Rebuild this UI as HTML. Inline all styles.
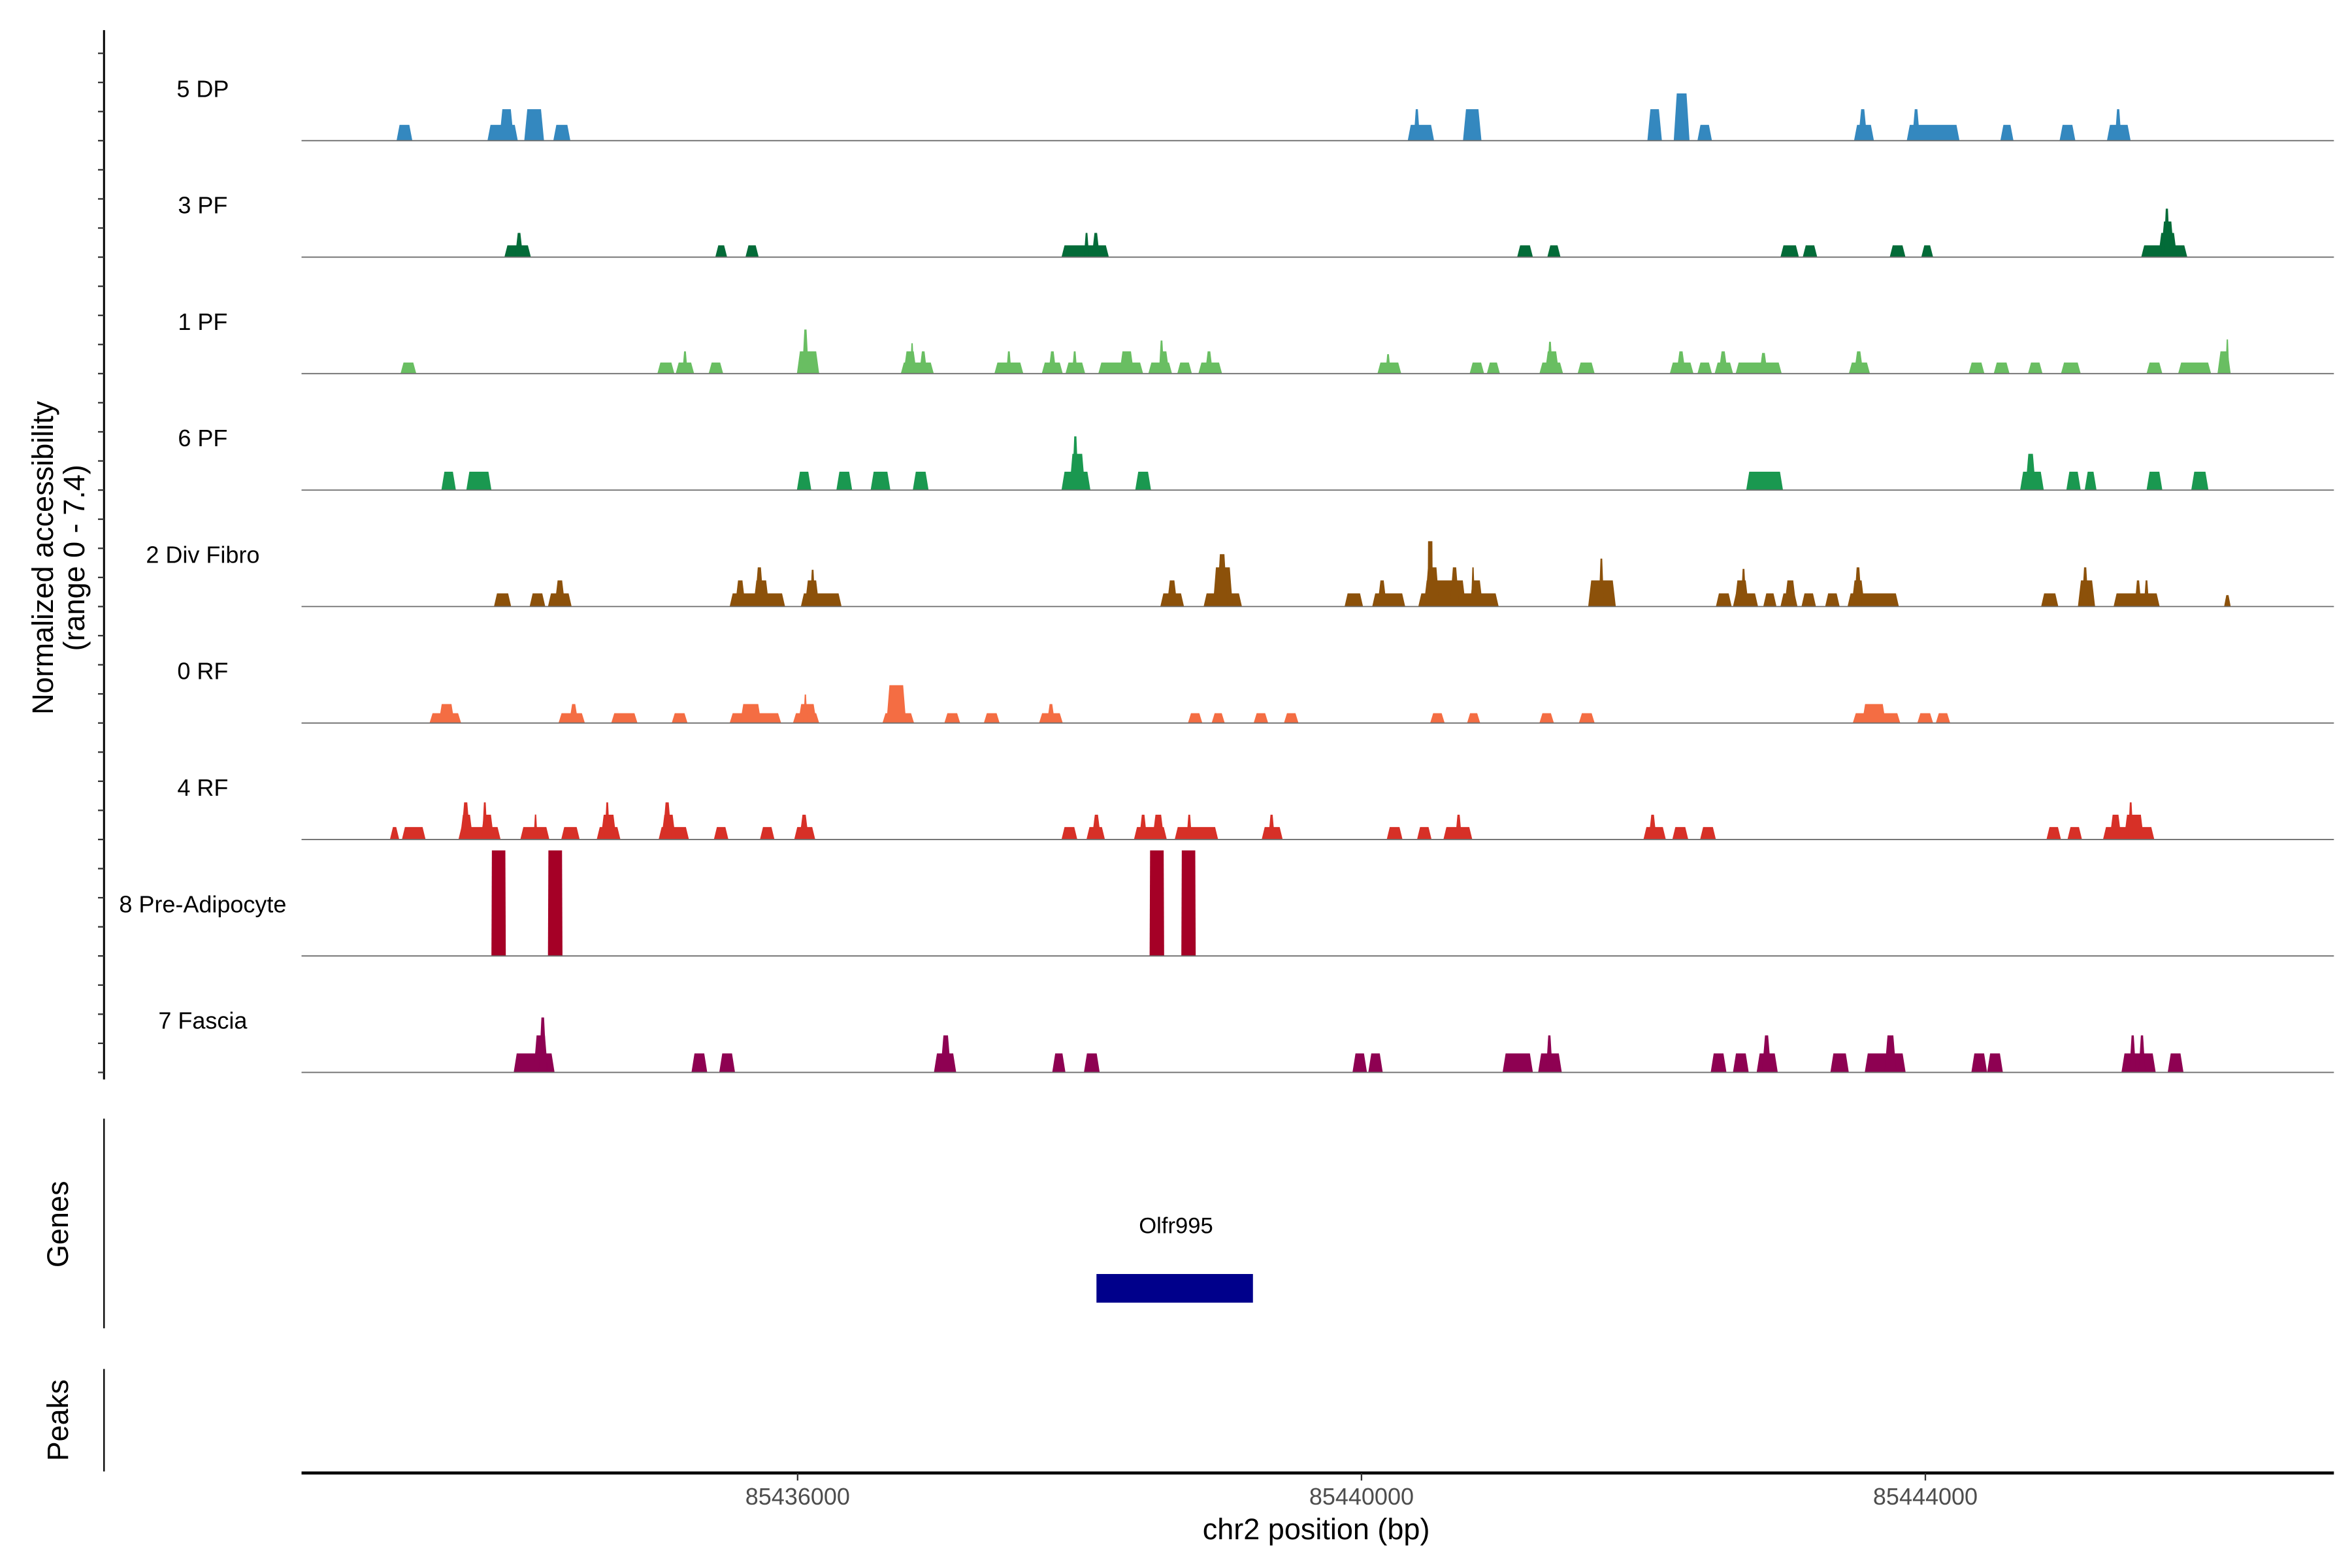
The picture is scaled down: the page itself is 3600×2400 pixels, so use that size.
<!DOCTYPE html>
<html><head><meta charset="utf-8"><style>
html,body{margin:0;padding:0;background:#fff;}
svg{display:block;}
text{font-family:"Liberation Sans",Arial,sans-serif;}
</style></head><body>
<svg id="chart" xmlns="http://www.w3.org/2000/svg" width="3600" height="2400" viewBox="0 0 1560 1040">
<rect x="0" y="0" width="1560" height="1040" fill="#fff"/>
<g id="tracks"></g>
<g id="yaxis">
<line x1="69" y1="20" x2="69" y2="716" stroke="#000" stroke-width="1.3"/>
</g>
<text transform="translate(35,370) rotate(-90)" text-anchor="middle" font-size="19.5">Normalized accessibility</text>
<text transform="translate(56,370) rotate(-90)" text-anchor="middle" font-size="19.5">(range 0 - 7.4)</text>
<line x1="69" y1="742" x2="69" y2="881" stroke="#000" stroke-width="1"/>
<text transform="translate(45,812) rotate(-90)" text-anchor="middle" font-size="19.5">Genes</text>
<text x="780" y="818" text-anchor="middle" font-size="15">Olfr995</text>
<rect id="generect" y="845" height="19" fill="#00008B"/>
<line x1="69" y1="908" x2="69" y2="976" stroke="#000" stroke-width="1"/>
<text transform="translate(45,942) rotate(-90)" text-anchor="middle" font-size="19.5">Peaks</text>
<line x1="200" y1="977" x2="1548" y2="977" stroke="#000" stroke-width="2"/>
<g id="xaxis"></g>
<text x="873" y="1021" text-anchor="middle" font-size="19.5">chr2 position (bp)</text>
</svg>
<script>
const xDomain = [85432481, 85446898];
const xTicks = [85436000, 85440000, 85444000];
const yMax = 7.4;
const trackNames = ["5 DP","3 PF","1 PF","6 PF","2 Div Fibro","0 RF","4 RF","8 Pre-Adipocyte","7 Fascia"];
const trackColors = ["#3488BF","#036B38","#69BE62","#1A9850","#8C510A","#F46D43","#D73027","#A50026","#8E0152"];
const gene = ["Olfr995", 85438120, 85439230];

const peaks5DP = [[85433155,85433267,1.11],[85433800,85434015,1.11],[85433884,85433987,2.21],[85434061,85434201,2.21],[85434267,85434388,1.11],[85440328,85440515,1.11],[85440370,85440415,2.21],[85440720,85440851,2.21],[85442028,85442131,2.21],[85442215,85442327,3.31],[85442383,85442486,1.11],[85443494,85443635,1.11],[85443523,85443588,2.21],[85443868,85444242,1.11],[85443906,85443962,2.21],[85444532,85444625,1.11],[85444952,85445064,1.11],[85445288,85445456,1.11],[85445344,85445391,2.21]];
const peaks3PF = [[85433920,85434108,0.83],[85433996,85434052,1.7],[85435416,85435500,0.83],[85435630,85435724,0.83],[85437872,85438208,0.83],[85438031,85438068,1.7],[85438087,85438143,1.7],[85441104,85441216,0.83],[85441318,85441412,0.83],[85442972,85443103,0.83],[85443130,85443233,0.83],[85443747,85443859,0.83],[85443971,85444055,0.83],[85445531,85445858,0.83],[85445652,85445785,1.7],[85445671,85445766,2.5],[85445690,85445736,3.4]];
const peaks1PF = [[85433183,85433295,0.78],[85435005,85435126,0.78],[85435135,85435266,0.78],[85435182,85435220,1.56],[85435369,85435472,0.78],[85435995,85436153,1.56],[85436032,85436079,3.09],[85436732,85436966,0.78],[85436751,85436845,1.56],[85436798,85436826,2.13],[85436863,85436919,1.56],[85437396,85437601,0.78],[85437480,85437517,1.56],[85437732,85437881,0.78],[85437779,85437835,1.56],[85437900,85438040,0.78],[85437947,85437984,1.56],[85438133,85438451,0.78],[85438283,85438386,1.56],[85438488,85438656,0.78],[85438563,85438637,1.56],[85438563,85438600,2.32],[85438693,85438797,0.78],[85438843,85439011,0.78],[85438890,85438946,1.56],[85440113,85440282,0.78],[85440170,85440207,1.36],[85440767,85440870,0.78],[85440889,85440982,0.78],[85441262,85441430,0.78],[85441300,85441402,1.56],[85441318,85441356,2.23],[85441533,85441654,0.78],[85442187,85442355,0.78],[85442234,85442299,1.56],[85442383,85442486,0.78],[85442505,85442636,0.78],[85442533,85442598,1.56],[85442654,85442981,0.78],[85442823,85442880,1.45],[85443457,85443607,0.78],[85443494,85443560,1.56],[85444307,85444419,0.78],[85444485,85444597,0.78],[85444728,85444831,0.78],[85444962,85445102,0.78],[85445569,85445681,0.78],[85445793,85446027,0.78],[85446072,85446166,1.56],[85446128,85446156,2.4]];
const peaks6PF = [[85433473,85433576,1.29],[85433650,85433828,1.29],[85435995,85436097,1.29],[85436275,85436387,1.29],[85436518,85436658,1.29],[85436817,85436929,1.29],[85437872,85438077,1.29],[85437928,85438040,2.54],[85437947,85437993,3.77],[85438395,85438507,1.29],[85442729,85442990,1.29],[85444672,85444840,1.29],[85444709,85444784,2.54],[85445000,85445102,1.29],[85445130,85445214,1.29],[85445569,85445681,1.29],[85445886,85446008,1.29]];
const peaks2Div = [[85433846,85433968,0.92],[85434099,85434210,0.92],[85434229,85434397,0.92],[85434276,85434351,1.83],[85435518,85435911,0.92],[85435556,85435630,1.83],[85435686,85435798,1.83],[85435696,85435761,2.75],[85436023,85436312,0.92],[85436051,85436153,1.83],[85436088,85436125,2.58],[85438573,85438741,0.92],[85438619,85438694,1.83],[85438880,85439152,0.92],[85438946,85439087,2.75],[85438974,85439049,3.67],[85439880,85440011,0.92],[85440076,85440310,0.92],[85440113,85440179,1.83],[85440403,85440973,0.92],[85440441,85440740,1.83],[85440450,85440553,2.75],[85440469,85440506,4.58],[85440627,85440693,2.75],[85440767,85440861,1.83],[85440777,85440805,2.75],[85441608,85441804,1.83],[85441683,85441720,3.36],[85442514,85442626,0.92],[85442635,85442813,0.92],[85442645,85442747,1.83],[85442691,85442729,2.64],[85442850,85442944,0.92],[85442972,85443093,0.92],[85443000,85443084,1.83],[85443121,85443224,0.92],[85443289,85443392,0.92],[85443448,85443812,0.92],[85443476,85443569,1.83],[85443494,85443550,2.75],[85444821,85444943,0.92],[85445082,85445204,1.83],[85445110,85445157,2.75],[85445335,85445662,0.92],[85445485,85445532,1.83],[85445550,85445587,1.83],[85446119,85446166,0.8]];
const peaks0RF = [[85433389,85433613,0.69],[85433454,85433566,1.33],[85434304,85434491,0.69],[85434379,85434444,1.33],[85434678,85434864,0.69],[85435107,85435219,0.69],[85435518,85435883,0.69],[85435593,85435742,1.33],[85435967,85436153,0.69],[85436004,85436135,1.33],[85436041,85436069,2.0],[85436602,85436826,0.69],[85436630,85436770,2.65],[85437041,85437153,0.69],[85437321,85437433,0.69],[85437713,85437881,0.69],[85437769,85437825,1.33],[85438769,85438871,0.69],[85438937,85439030,0.69],[85439235,85439338,0.69],[85439450,85439553,0.69],[85440487,85440590,0.69],[85440749,85440842,0.69],[85441262,85441365,0.69],[85441542,85441654,0.69],[85443485,85443822,0.69],[85443551,85443719,1.33],[85443943,85444055,0.69],[85444074,85444176,0.69]];
const peaks4RF = [[85433108,85433174,0.87],[85433193,85433361,0.87],[85433594,85433893,0.87],[85433604,85433697,1.74],[85433613,85433678,2.6],[85433753,85433846,1.74],[85433762,85433800,2.6],[85434033,85434239,0.87],[85434127,85434155,1.75],[85434323,85434454,0.87],[85434575,85434743,0.87],[85434603,85434715,1.74],[85434631,85434668,2.6],[85435014,85435229,0.87],[85435033,85435135,1.74],[85435042,85435107,2.6],[85435406,85435509,0.87],[85435733,85435836,0.87],[85435976,85436125,0.87],[85436013,85436079,1.74],[85437872,85437984,0.87],[85438049,85438180,0.87],[85438087,85438152,1.74],[85438386,85438619,0.87],[85438423,85438479,1.74],[85438517,85438600,1.74],[85438675,85438983,0.87],[85438759,85438797,1.74],[85439292,85439441,0.87],[85439339,85439385,1.74],[85440179,85440291,0.87],[85440394,85440497,0.87],[85440581,85440786,0.87],[85440665,85440712,1.74],[85442000,85442159,0.87],[85442037,85442093,1.74],[85442205,85442318,0.87],[85442402,85442514,0.87],[85444859,85444962,0.87],[85445008,85445111,0.87],[85445260,85445624,0.87],[85445307,85445391,1.74],[85445409,85445550,1.74],[85445438,85445475,2.6]];
const peaksPreAd = [[85433828,85433930,7.4],[85434229,85434332,7.4],[85438497,85438600,7.4],[85438722,85438824,7.4]];
const peaksFascia = [[85433986,85434276,1.33],[85434127,85434229,2.6],[85434164,85434220,3.85],[85435247,85435359,1.33],[85435444,85435556,1.33],[85436967,85437125,1.33],[85437013,85437088,2.6],[85437806,85437900,1.33],[85438031,85438143,1.33],[85439936,85440039,1.33],[85440048,85440151,1.33],[85441001,85441216,1.33],[85441253,85441421,1.33],[85441309,85441356,2.6],[85442477,85442589,1.33],[85442635,85442747,1.33],[85442803,85442953,1.33],[85442841,85442906,2.6],[85443326,85443457,1.33],[85443570,85443860,1.33],[85443710,85443794,2.6],[85444326,85444438,1.33],[85444438,85444550,1.33],[85445391,85445634,1.33],[85445447,85445494,2.6],[85445513,85445560,2.6],[85445719,85445831,1.33]];

const allPeaks = [peaks5DP,peaks3PF,peaks1PF,peaks6PF,peaks2Div,peaks0RF,peaks4RF,peaksPreAd,peaksFascia];

const NS = "http://www.w3.org/2000/svg";
const X0 = 200, X1 = 1548;
function xScale(bp){ return X0 + (bp - xDomain[0]) / (xDomain[1] - xDomain[0]) * (X1 - X0); }
const trackTop = 93.3, trackStep = 77.25, trackH = 70;
function baseY(i){ return trackTop + i * trackStep; }
function yScale(v, i){ return baseY(i) - v / yMax * trackH; }

const tracksG = document.getElementById("tracks");
trackNames.forEach(function(name, i){
  const g = document.createElementNS(NS, "g");
  
  
  tracksG.appendChild(g);
  const peaks = allPeaks[i];
  peaks.forEach(function(p){
    const xs = xScale(p[0]), xe = xScale(p[1]);
    const yb = baseY(i), yt = yScale(p[2], i);
    let d = Math.min(2.0, (xe - xs) / 3);
    if (yb - yt > 40) d = 0.3;
    const path = document.createElementNS(NS, "path");
    path.setAttribute("d", "M" + xs + "," + yb + "L" + (xs + d) + "," + yt + "L" + (xe - d) + "," + yt + "L" + xe + "," + yb + "Z");
    path.setAttribute("fill", trackColors[i]);
    
    
    g.appendChild(path);
  });
  const bl = document.createElementNS(NS, "line");
  bl.setAttribute("x1", X0); bl.setAttribute("x2", X1);
  bl.setAttribute("y1", baseY(i)); bl.setAttribute("y2", baseY(i));
  bl.setAttribute("stroke", "#6e6e6e"); bl.setAttribute("stroke-width", "0.8");
  
  
  g.appendChild(bl);
  const t = document.createElementNS(NS, "text");
  t.setAttribute("x", 134.5); t.setAttribute("y", baseY(i) - 29);
  t.setAttribute("text-anchor", "middle"); t.setAttribute("font-size", "15.6");
  t.textContent = name;
  
  
  g.appendChild(t);
});

const yaxis = document.getElementById("yaxis");
for (let y = baseY(0) - 3 * trackStep / 4; y <= baseY(8) + 0.5; y += trackStep / 4) {
  const tk = document.createElementNS(NS, "line");
  tk.setAttribute("x1", 65); tk.setAttribute("x2", 69);
  tk.setAttribute("y1", y); tk.setAttribute("y2", y);
  tk.setAttribute("stroke", "#333"); tk.setAttribute("stroke-width", "1");
  
  
  yaxis.appendChild(tk);
}

const xaxis = document.getElementById("xaxis");
xTicks.forEach(function(v){
  const x = xScale(v);
  const tk = document.createElementNS(NS, "line");
  tk.setAttribute("x1", x); tk.setAttribute("x2", x);
  tk.setAttribute("y1", 977); tk.setAttribute("y2", 982);
  tk.setAttribute("stroke", "#333"); tk.setAttribute("stroke-width", "1");
  
  
  xaxis.appendChild(tk);
  const t = document.createElementNS(NS, "text");
  t.setAttribute("x", x); t.setAttribute("y", 998);
  t.setAttribute("text-anchor", "middle"); t.setAttribute("font-size", "15.6");
  t.setAttribute("fill", "#4D4D4D");
  t.textContent = String(v);
  
  
  xaxis.appendChild(t);
});

const gr = document.getElementById("generect");
gr.setAttribute("x", xScale(gene[1]));
gr.setAttribute("width", xScale(gene[2]) - xScale(gene[1]));
</script>
</body></html>
